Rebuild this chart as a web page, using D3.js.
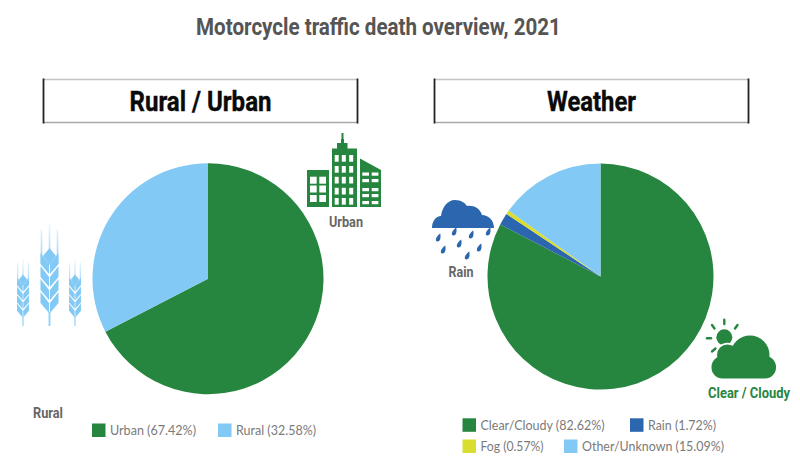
<!DOCTYPE html>
<html><head><meta charset="utf-8">
<script src="https://cdn.jsdelivr.net/npm/d3@7"></script>
<style>html,body{margin:0;background:#fff;overflow:hidden}svg{display:block}</style>
</head><body><svg id="c" width="800" height="468"></svg>
<script>
const ruralCategories = ["Urban", "Rural"];
const ruralValues = [67.42, 32.58];
const weatherCategories = ["Clear/Cloudy", "Rain", "Fog", "Other/Unknown"];
const weatherValues = [82.62, 1.72, 0.57, 15.09];
const GREEN = "#26863f", SKY = "#82c9f5", BLUE = "#2b66ae", YEL = "#d9de2e";
const ruralColors = [GREEN, SKY];
const weatherColors = [GREEN, BLUE, YEL, SKY];

const svg = d3.select("#c");
const COND = "Roboto, sans-serif";

function fitted(x, y, txt, size, weight, fill, width, bold) {
  const t = svg.append("text").text(txt)
    .attr("font-family", COND).attr("font-size", size).attr("font-weight", weight)
    .attr("fill", fill).attr("text-anchor", "middle")
    .attr("stroke", fill).attr("stroke-width", bold || 0);
  const natural = t.node().getComputedTextLength();
  t.attr("transform", `translate(${x},${y}) scale(${width / natural},1)`);
  return t;
}

fitted(378.5, 35, "Motorcycle traffic death overview, 2021", 24, 700, "#555555", 365);

function panelBox(x0, x1, y0, y1, title, tw) {
  svg.append("line").attr("x1", x0).attr("x2", x1).attr("y1", y0).attr("y2", y0).attr("stroke", "#c4c4c4").attr("stroke-width", 1.5);
  svg.append("line").attr("x1", x0).attr("x2", x1).attr("y1", y1).attr("y2", y1).attr("stroke", "#a9a9a9").attr("stroke-width", 1.5);
  [x0, x1].forEach(x => svg.append("line").attr("x1", x).attr("x2", x).attr("y1", y0 - 1).attr("y2", y1 + 1).attr("stroke", "#222").attr("stroke-width", 1.8));
  fitted((x0 + x1) / 2, 111, title, 28, 700, "#0a0a0a", tw, 0.4);
}
panelBox(43.5, 357.5, 79.5, 122.5, "Rural / Urban", 142);
panelBox(434.5, 748.5, 79.5, 122.5, "Weather", 89);

function drawPie(cx, cy, r, values, colors) {
  const pie = d3.pie().sort(null).value(d => d);
  const arc = d3.arc().innerRadius(0).outerRadius(r);
  const color = d3.scaleOrdinal().domain(d3.range(values.length)).range(colors);
  svg.append("g").attr("transform", `translate(${cx},${cy})`)
    .selectAll("path").data(pie(values)).join("path")
    .attr("d", arc).attr("fill", (d, i) => color(i));
}
drawPie(208, 278.7, 115.5, ruralValues, ruralColors);
drawPie(600.5, 276.5, 113, weatherValues, weatherColors);

function legendItem(sx, sy, color, label, tw) {
  svg.append("rect").attr("x", sx).attr("y", sy).attr("width", 13.5).attr("height", 13.5).attr("fill", color);
  svg.append("text").attr("x", sx + 18).attr("y", sy + 11.5).text(label)
    .attr("font-family", "Lato, sans-serif").attr("font-size", 14).attr("fill", "#7a7a7a")
    .attr("textLength", tw).attr("lengthAdjust", "spacingAndGlyphs");
}
const pct = (c, v) => `${c} (${v.toFixed(2)}%)`;
legendItem(92, 423.5, ruralColors[0], pct(ruralCategories[0], ruralValues[0]), 86);
legendItem(218, 423.5, ruralColors[1], pct(ruralCategories[1], ruralValues[1]), 80);
legendItem(462.5, 418.3, weatherColors[0], pct(weatherCategories[0], weatherValues[0]), 124);
legendItem(630, 418.3, weatherColors[1], pct(weatherCategories[1], weatherValues[1]), 68);
legendItem(462.5, 439.5, weatherColors[2], pct(weatherCategories[2], weatherValues[2]), 63);
legendItem(564, 439.5, weatherColors[3], pct(weatherCategories[3], weatherValues[3]), 142);

fitted(346, 227, "Urban", 15, 700, "#666", 34);
fitted(48, 418, "Rural", 15, 700, "#666", 30);
fitted(461, 277, "Rain", 15, 700, "#666", 25);
fitted(749, 397.5, "Clear / Cloudy", 15, 700, GREEN, 82);

/* Building icon */
const b = svg.append("g").attr("fill", GREEN);
b.append("rect").attr("x", 307).attr("y", 170).attr("width", 22).attr("height", 37);
b.append("rect").attr("x", 332).attr("y", 148.5).attr("width", 25).attr("height", 58.5);
b.append("path").attr("d", "M337 149 L337 143 L341 143 L341 139 L341.5 139 L341.5 133 L343.5 133 L343.5 139 L344 139 L344 143 L347.5 143 L347.5 149 Z");
b.append("path").attr("d", "M360 158.5 L381 170 L381 207 L360 207 Z");
const w = svg.append("g").attr("fill", "#fff");
[176.7, 185.5, 195].forEach(y => [310, 319.3].forEach(x =>
  w.append("rect").attr("x", x).attr("y", y).attr("width", 6.7).attr("height", 7)));
[155, 166, 176.8, 187.8, 198].forEach(y => [334.7, 341.8, 349.2].forEach(x =>
  w.append("rect").attr("x", x).attr("y", y).attr("width", 4).attr("height", 6.7)));
[172.5, 179, 188, 194, 201].forEach(y => [362.3, 371.7].forEach(x =>
  w.append("rect").attr("x", x).attr("y", y).attr("width", 6.7).attr("height", 3.2)));

/* Wheat icons */
function wheat(cx, bottom, s) {
  const g = svg.append("g").attr("transform", `translate(${cx},${bottom}) scale(${s})`).attr("fill", "none");
  const id = "wg" + Math.round(cx);
  const lg = svg.append("defs").append("linearGradient").attr("id", id)
    .attr("gradientUnits", "userSpaceOnUse").attr("x1", 0).attr("x2", 0).attr("y1", -102).attr("y2", -60);
  lg.append("stop").attr("offset", 0).attr("stop-color", SKY).attr("stop-opacity", 0.1);
  lg.append("stop").attr("offset", 1).attr("stop-color", SKY).attr("stop-opacity", 1);
  [-8, 0, 8].forEach(dx => g.append("path").attr("d", `M${dx} ${dx ? -96 : -102} L${dx} -62`).attr("stroke", `url(#${id})`).attr("stroke-width", 1.6));
  g.append("path").attr("d", "M0 -14 L0 0").attr("stroke", SKY).attr("stroke-opacity", 0.8).attr("stroke-width", 2);
  const f = g.append("g").attr("fill", SKY);
  f.append("path").attr("d", "M0 -78 L6.5 -70 L0 -61 L-6.5 -70 Z");
  [0, 1, 2, 3].forEach(i => {
    const y = -65 + i * 13;
    f.append("path").attr("d", `M-0.5 ${y + 13} L-9 ${y + 3} L-9 ${y - 8} L-0.5 ${y + 3} Z`);
    f.append("path").attr("d", `M0.5 ${y + 13} L9 ${y + 3} L9 ${y - 8} L0.5 ${y + 3} Z`);
  });
}
wheat(49.5, 326, 1);
wheat(23, 326, 0.66);
wheat(75, 326, 0.66);

/* Rain cloud */
const rain = svg.append("g").attr("fill", BLUE);
rain.append("path").attr("d", "M432 228 C432 221 436 216 441 216 C442 208 447 200 455 200 C461 200 465 203 467 206 C473 205 480 208 482 215 C488 215 494 220 494 228 Z");
[[438,238],[454,232],[471,235],[488,232],[443,250],[459,244],[479,248],[467,256]].forEach(([x,y]) =>
  rain.append("path").attr("d", `M${x+2.2} ${y-4.5} C${x+3} ${y-1} ${x+2.5} ${y+3.5} ${x-0.5} ${y+3.5} C${x-3.5} ${y+3.5} ${x-2.5} ${y-1} ${x+2.2} ${y-4.5} Z`));

/* Sun and cloud */
const sc = svg.append("g");
sc.append("circle").attr("cx", 724.3).attr("cy", 337.3).attr("r", 8).attr("fill", GREEN);
[[707,338.3,711,338.3],[712,325,714.5,328.5],[724.3,319.7,724.3,324],[737.5,325,735,328.5],[712,351.5,715.5,348.5]].forEach(([a,b2,c,d]) =>
  sc.append("line").attr("x1",a).attr("y1",b2).attr("x2",c).attr("y2",d).attr("stroke",GREEN).attr("stroke-width",2.4).attr("stroke-linecap","round"));
const cloudParts = g => {
  g.append("rect").attr("x", 711.5).attr("y", 356).attr("width", 64.5).attr("height", 22.5).attr("rx", 11);
  g.append("circle").attr("cx", 750).attr("cy", 355).attr("r", 19.5);
  g.append("circle").attr("cx", 727.5).attr("cy", 355).attr("r", 10.5);
};
const halo = sc.append("g").attr("fill", "#fff").attr("stroke", "#fff").attr("stroke-width", 3.5);
cloudParts(halo);
const cl = sc.append("g").attr("fill", GREEN);
cloudParts(cl);
</script></body></html>
